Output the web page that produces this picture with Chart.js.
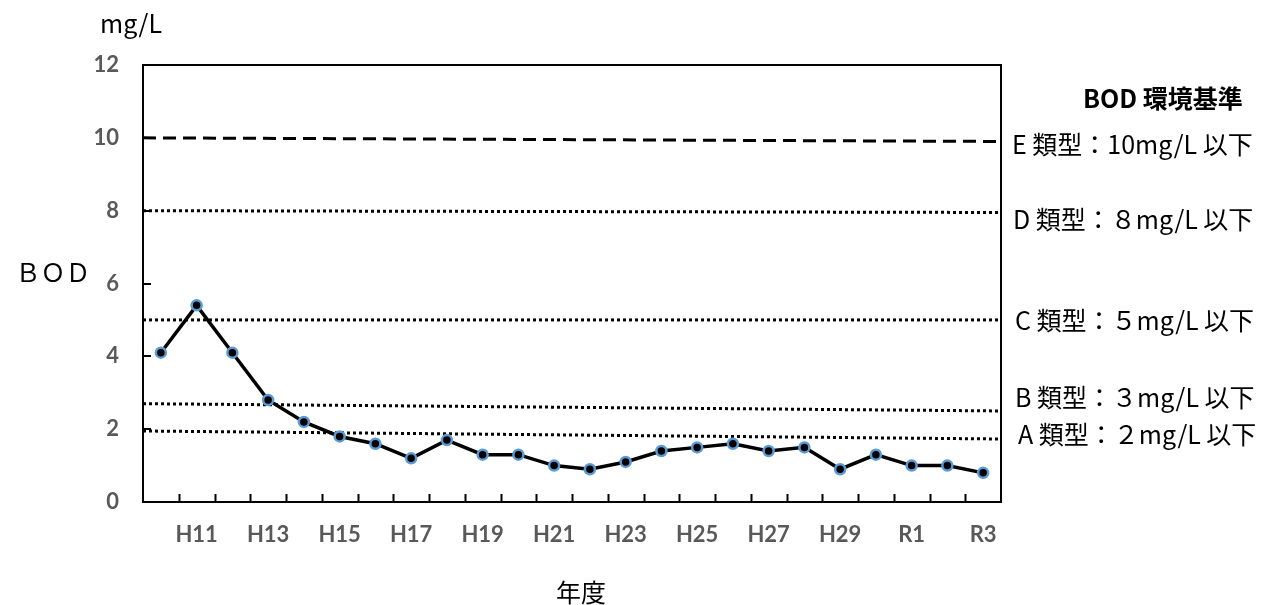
<!DOCTYPE html>
<html>
<head>
<meta charset="utf-8">
<script src="https://cdn.jsdelivr.net/npm/chart.js@4.4.1/dist/chart.umd.min.js"></script>
<style>
  body { margin: 0; background: #fff; }
  canvas { display: block; }
</style>
</head>
<body>
<canvas id="chart" width="1282" height="605"></canvas>
<script>
// 年度
const years = ['H10', 'H11', 'H12', 'H13', 'H14', 'H15', 'H16', 'H17', 'H18', 'H19', 'H20',
    'H21', 'H22', 'H23', 'H24', 'H25', 'H26', 'H27', 'H28', 'H29', 'H30', 'R1', 'R2', 'R3'];

// BOD (mg/L)
const bod = [4.1, 5.4, 4.1, 2.8, 2.2, 1.8, 1.6, 1.2, 1.7, 1.3, 1.3,
    1.0, 0.9, 1.1, 1.4, 1.5, 1.6, 1.4, 1.5, 0.9, 1.3, 1.0, 1.0, 0.8];

// 環境基準の線 (左端と右端の値, 元の図では少し傾いている)
const refNames = ['E', 'D', 'C', 'B', 'A'];
const refStart = [10.0, 8.0, 5.0, 2.7, 1.95];
const refEnd = [9.9, 7.95, 5.0, 2.5, 1.73];
const refLabels = ['E 類型：10mg/L 以下', 'D 類型：８mg/L 以下', 'C 類型：５mg/L 以下',
    'B 類型：３mg/L 以下', 'A 類型：２mg/L 以下'];

const yTicks = [0, 2, 4, 6, 8, 10, 12];

const refDatasets = refNames.map((name, i) => ({
    label: name,
    xAxisID: 'xr',
    data: [{ x: -0.5, y: refStart[i] }, { x: years.length - 0.5, y: refEnd[i] }],
    borderColor: '#000',
    borderWidth: 3,
    borderDash: name === 'E' ? [13, 7] : [3, 3],
    pointRadius: 0,
    order: 2
}));

// 枠線・内側の目盛り・文字
const decorations = {
    id: 'decorations',
    afterDatasetsDraw(chart) {
        const ctx = chart.ctx;
        const area = chart.chartArea;
        const x = chart.scales.x;
        const y = chart.scales.y;
        ctx.save();
        ctx.strokeStyle = '#000';
        ctx.lineWidth = 2;
        ctx.strokeRect(area.left, area.top, area.right - area.left, area.bottom - area.top);

        ctx.beginPath();
        for (let i = 1; i < years.length; i++) {
            const px = Math.round((x.getPixelForValue(i - 1) + x.getPixelForValue(i)) / 2) + 0.5;
            ctx.moveTo(px, area.bottom);
            ctx.lineTo(px, area.bottom - 8);
        }
        yTicks.forEach(v => {
            const py = Math.round(y.getPixelForValue(v));
            ctx.moveTo(area.left, py);
            ctx.lineTo(area.left + 8, py);
        });
        ctx.stroke();

        ctx.fillStyle = '#000';
        ctx.textBaseline = 'middle';
        ctx.font = '25px "Noto Sans CJK JP"';
        ctx.textAlign = 'center';
        ctx.fillText('mg/L', 131, 23);
        ctx.fillText('ＢＯＤ', 53, 272);
        ctx.fillText('年度', 581, 592);

        ctx.textAlign = 'left';
        ctx.font = 'bold 25px "Noto Sans CJK JP"';
        ctx.fillText('BOD 環境基準', 1083, 98, 162);
        ctx.font = '25px "Noto Sans CJK JP"';
        const labelX = [1012, 1013, 1015, 1015, 1018];
        const labelY = [144, 219, 320, 397, 434];
        refLabels.forEach((t, i) => ctx.fillText(t, labelX[i], labelY[i], 250));
        ctx.restore();
    }
};

new Chart(document.getElementById('chart'), {
    type: 'line',
    data: {
        labels: years,
        datasets: [{
            label: 'BOD',
            data: bod,
            borderColor: '#000',
            borderWidth: 3.5,
            pointRadius: 5,
            pointBackgroundColor: '#000',
            pointBorderColor: '#5b9bd5',
            pointBorderWidth: 2.5,
            tension: 0,
            order: 1
        }, ...refDatasets]
    },
    options: {
        responsive: false,
        animation: false,
        layout: {
            padding: { top: 65, right: 281, left: 0, bottom: 0 }
        },
        plugins: {
            legend: { display: false },
            tooltip: { enabled: false }
        },
        scales: {
            x: {
                type: 'category',
                offset: true,
                grid: { display: false, drawTicks: false },
                border: { display: false },
                ticks: {
                    autoSkip: false,
                    maxRotation: 0,
                    padding: 20,
                    color: '#595959',
                    font: { family: 'Lato', size: 22, weight: 'bold' },
                    callback: (v, i) => (i % 2 === 1 ? years[i] : '')
                },
                afterFit: scale => { scale.height = 103; }
            },
            xr: {
                type: 'linear',
                display: false,
                min: -0.5,
                max: years.length - 0.5
            },
            y: {
                min: 0,
                max: 12,
                grid: { display: false, drawTicks: false },
                border: { display: false },
                ticks: {
                    stepSize: 2,
                    padding: 24,
                    color: '#595959',
                    font: { family: 'Lato', size: 22, weight: 'bold' }
                },
                afterFit: scale => { scale.width = 143; }
            }
        }
    },
    plugins: [decorations]
});
</script>
</body>
</html>
